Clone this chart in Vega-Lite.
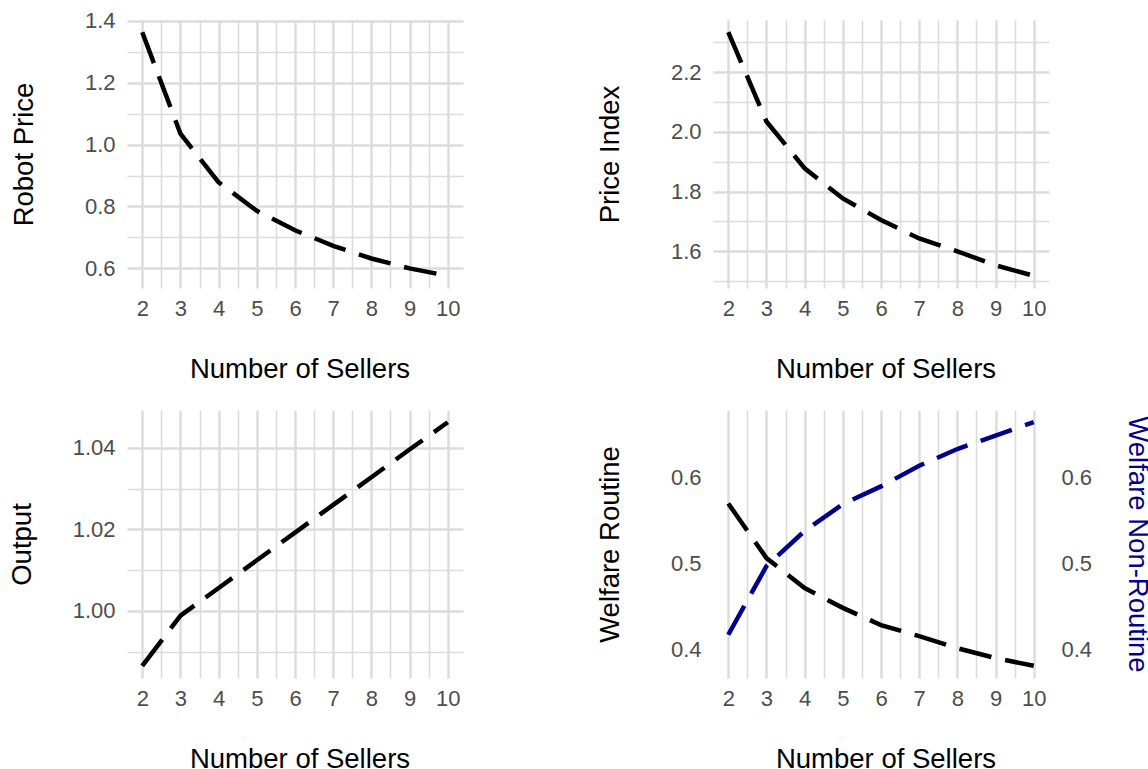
{
  "$schema": "https://vega.github.io/schema/vega-lite/v6.json",
  "background": "white",
  "padding": {"left": 7, "top": 9, "right": 0, "bottom": 0},
  "data": {
    "values": [
      {"n": 2, "robot_price": 1.363, "price_index": 2.334, "output": 0.9865, "welfare_routine": 0.5696, "welfare_nonroutine": 0.4167},
      {"n": 3, "robot_price": 1.035, "price_index": 2.035, "output": 0.9988, "welfare_routine": 0.506, "welfare_nonroutine": 0.4966},
      {"n": 4, "robot_price": 0.878, "price_index": 1.878, "output": 1.0056, "welfare_routine": 0.471, "welfare_nonroutine": 0.5376},
      {"n": 5, "robot_price": 0.786, "price_index": 1.777, "output": 1.0124, "welfare_routine": 0.448, "welfare_nonroutine": 0.5688},
      {"n": 6, "robot_price": 0.723, "price_index": 1.705, "output": 1.0192, "welfare_routine": 0.428, "welfare_nonroutine": 0.5895},
      {"n": 7, "robot_price": 0.673, "price_index": 1.643, "output": 1.026, "welfare_routine": 0.415, "welfare_nonroutine": 0.6136},
      {"n": 8, "robot_price": 0.632, "price_index": 1.6, "output": 1.0328, "welfare_routine": 0.401, "welfare_nonroutine": 0.633},
      {"n": 9, "robot_price": 0.6, "price_index": 1.553, "output": 1.0396, "welfare_routine": 0.3895, "welfare_nonroutine": 0.6487},
      {"n": 10, "robot_price": 0.576, "price_index": 1.518, "output": 1.0463, "welfare_routine": 0.3805, "welfare_nonroutine": 0.6643}
    ]
  },
  "columns": 2,
  "spacing": {"row": 122, "column": 250},
  "bounds": "flush",
  "config": {
    "font": "Liberation Sans",
    "view": {"stroke": null},
    "axis": {
      "domain": false,
      "ticks": false,
      "tickSize": 0,
      "labelColor": "#4d4d4d",
      "labelFontSize": 22,
      "labelPadding": 12,
      "titleFontSize": 27.5,
      "titleFontWeight": "normal",
      "titleColor": "#000000",
      "gridColor": "#dcdcdc"
    },
    "line": {"strokeDash": [33, 14], "strokeWidth": 4.5, "strokeCap": "butt"}
  },
  "concat": [
    {
      "width": 336,
      "height": 268,
      "mark": {"type": "line", "color": "#000000"},
      "encoding": {
        "x": {"field": "n", "type": "quantitative", "scale": {"domain": [1.6, 10.4], "nice": false, "zero": false},
          "axis": {"title": "Number of Sellers", "values": [2, 2.5, 3, 3.5, 4, 4.5, 5, 5.5, 6, 6.5, 7, 7.5, 8, 8.5, 9, 9.5, 10], "format": ".0f",
            "labelExpr": "datum.value % 1 === 0 ? datum.label : ''", "labelPadding": 10, "titleX": 172.5, "titleY": 89, "titleBaseline": "alphabetic",
            "gridWidth": {"condition": {"test": "datum.value % 1 === 0", "value": 2.4}, "value": 1.6}}},
        "y": {"field": "robot_price", "type": "quantitative", "scale": {"domain": [0.5366, 1.4024], "nice": false, "zero": false},
          "axis": {"title": "Robot Price", "values": [0.6, 0.7, 0.8, 0.9, 1.0, 1.1, 1.2, 1.3, 1.4], "format": ".1f",
            "labelExpr": "round(datum.value * 10) % 2 === 0 ? datum.label : ''",
            "titleX": -95, "titleY": 134, "titleAngle": -90, "titleBaseline": "alphabetic", "titleAlign": "center",
            "gridWidth": {"condition": {"test": "round(datum.value * 10) % 2 === 0", "value": 2.4}, "value": 1.6}}}
      }
    },
    {
      "width": 336,
      "height": 268,
      "mark": {"type": "line", "color": "#000000"},
      "encoding": {
        "x": {"field": "n", "type": "quantitative", "scale": {"domain": [1.6, 10.4], "nice": false, "zero": false},
          "axis": {"title": "Number of Sellers", "values": [2, 2.5, 3, 3.5, 4, 4.5, 5, 5.5, 6, 6.5, 7, 7.5, 8, 8.5, 9, 9.5, 10], "format": ".0f",
            "labelExpr": "datum.value % 1 === 0 ? datum.label : ''", "labelPadding": 10, "titleX": 172.5, "titleY": 89, "titleBaseline": "alphabetic",
            "gridWidth": {"condition": {"test": "datum.value % 1 === 0", "value": 2.4}, "value": 1.6}}},
        "y": {"field": "price_index", "type": "quantitative", "scale": {"domain": [1.477, 2.375], "nice": false, "zero": false},
          "axis": {"title": "Price Index", "values": [1.5, 1.6, 1.7, 1.8, 1.9, 2.0, 2.1, 2.2, 2.3], "format": ".1f",
            "labelExpr": "round(datum.value * 10) % 2 === 0 ? datum.label : ''",
            "titleX": -95, "titleY": 134, "titleAngle": -90, "titleBaseline": "alphabetic", "titleAlign": "center",
            "gridWidth": {"condition": {"test": "round(datum.value * 10) % 2 === 0", "value": 2.4}, "value": 1.6}}}
      }
    },
    {
      "width": 336,
      "height": 268,
      "mark": {"type": "line", "color": "#000000"},
      "encoding": {
        "x": {"field": "n", "type": "quantitative", "scale": {"domain": [1.6, 10.4], "nice": false, "zero": false},
          "axis": {"title": "Number of Sellers", "values": [2, 2.5, 3, 3.5, 4, 4.5, 5, 5.5, 6, 6.5, 7, 7.5, 8, 8.5, 9, 9.5, 10], "format": ".0f",
            "labelExpr": "datum.value % 1 === 0 ? datum.label : ''", "labelPadding": 10, "titleX": 172.5, "titleY": 89, "titleBaseline": "alphabetic",
            "gridWidth": {"condition": {"test": "datum.value % 1 === 0", "value": 2.4}, "value": 1.6}}},
        "y": {"field": "output", "type": "quantitative", "scale": {"domain": [0.9835, 1.0493], "nice": false, "zero": false},
          "axis": {"title": "Output", "values": [0.99, 1.0, 1.01, 1.02, 1.03, 1.04], "format": ".2f",
            "labelExpr": "round(datum.value * 100) % 2 === 0 ? datum.label : ''",
            "titleX": -97, "titleY": 134, "titleAngle": -90, "titleBaseline": "alphabetic", "titleAlign": "center",
            "gridWidth": {"condition": {"test": "round(datum.value * 100) % 2 === 0", "value": 2.4}, "value": 1.6}}}
      }
    },
    {
      "width": 336,
      "height": 268,
      "encoding": {
        "x": {"field": "n", "type": "quantitative", "scale": {"domain": [1.6, 10.4], "nice": false, "zero": false},
          "axis": {"title": "Number of Sellers", "values": [2, 2.5, 3, 3.5, 4, 4.5, 5, 5.5, 6, 6.5, 7, 7.5, 8, 8.5, 9, 9.5, 10], "format": ".0f",
            "labelExpr": "datum.value % 1 === 0 ? datum.label : ''", "labelPadding": 10, "titleX": 172.5, "titleY": 89, "titleBaseline": "alphabetic",
            "gridWidth": {"condition": {"test": "datum.value % 1 === 0", "value": 2.4}, "value": 1.6}}}
      },
      "layer": [
        {
          "mark": {"type": "line", "color": "#00008b"},
          "encoding": {
            "y": {"field": "welfare_nonroutine", "type": "quantitative", "scale": {"domain": [0.3663, 0.6785], "nice": false, "zero": false},
              "axis": {"orient": "right", "grid": false, "title": "Welfare Non-Routine", "titleColor": "#00008b", "values": [0.4, 0.5, 0.6], "format": ".1f",
                "titleX": 79, "titleY": 134, "titleAngle": 90, "titleBaseline": "alphabetic", "titleAlign": "center"}}
          }
        },
        {
          "mark": {"type": "line", "color": "#000000"},
          "encoding": {
            "y": {"field": "welfare_routine", "type": "quantitative", "scale": {"domain": [0.3663, 0.6785], "nice": false, "zero": false},
              "axis": {"orient": "left", "title": "Welfare Routine", "values": [0.4, 0.45, 0.5, 0.55, 0.6, 0.65], "format": ".1f",
                "labelExpr": "round(datum.value * 20) % 2 === 0 ? datum.label : ''",
                "titleX": -95, "titleY": 134, "titleAngle": -90, "titleBaseline": "alphabetic", "titleAlign": "center",
                "gridWidth": {"condition": {"test": "round(datum.value * 20) % 2 === 0", "value": 2.4}, "value": 1.6}}}
          }
        }
      ],
      "resolve": {"scale": {"y": "independent"}}
    }
  ]
}
